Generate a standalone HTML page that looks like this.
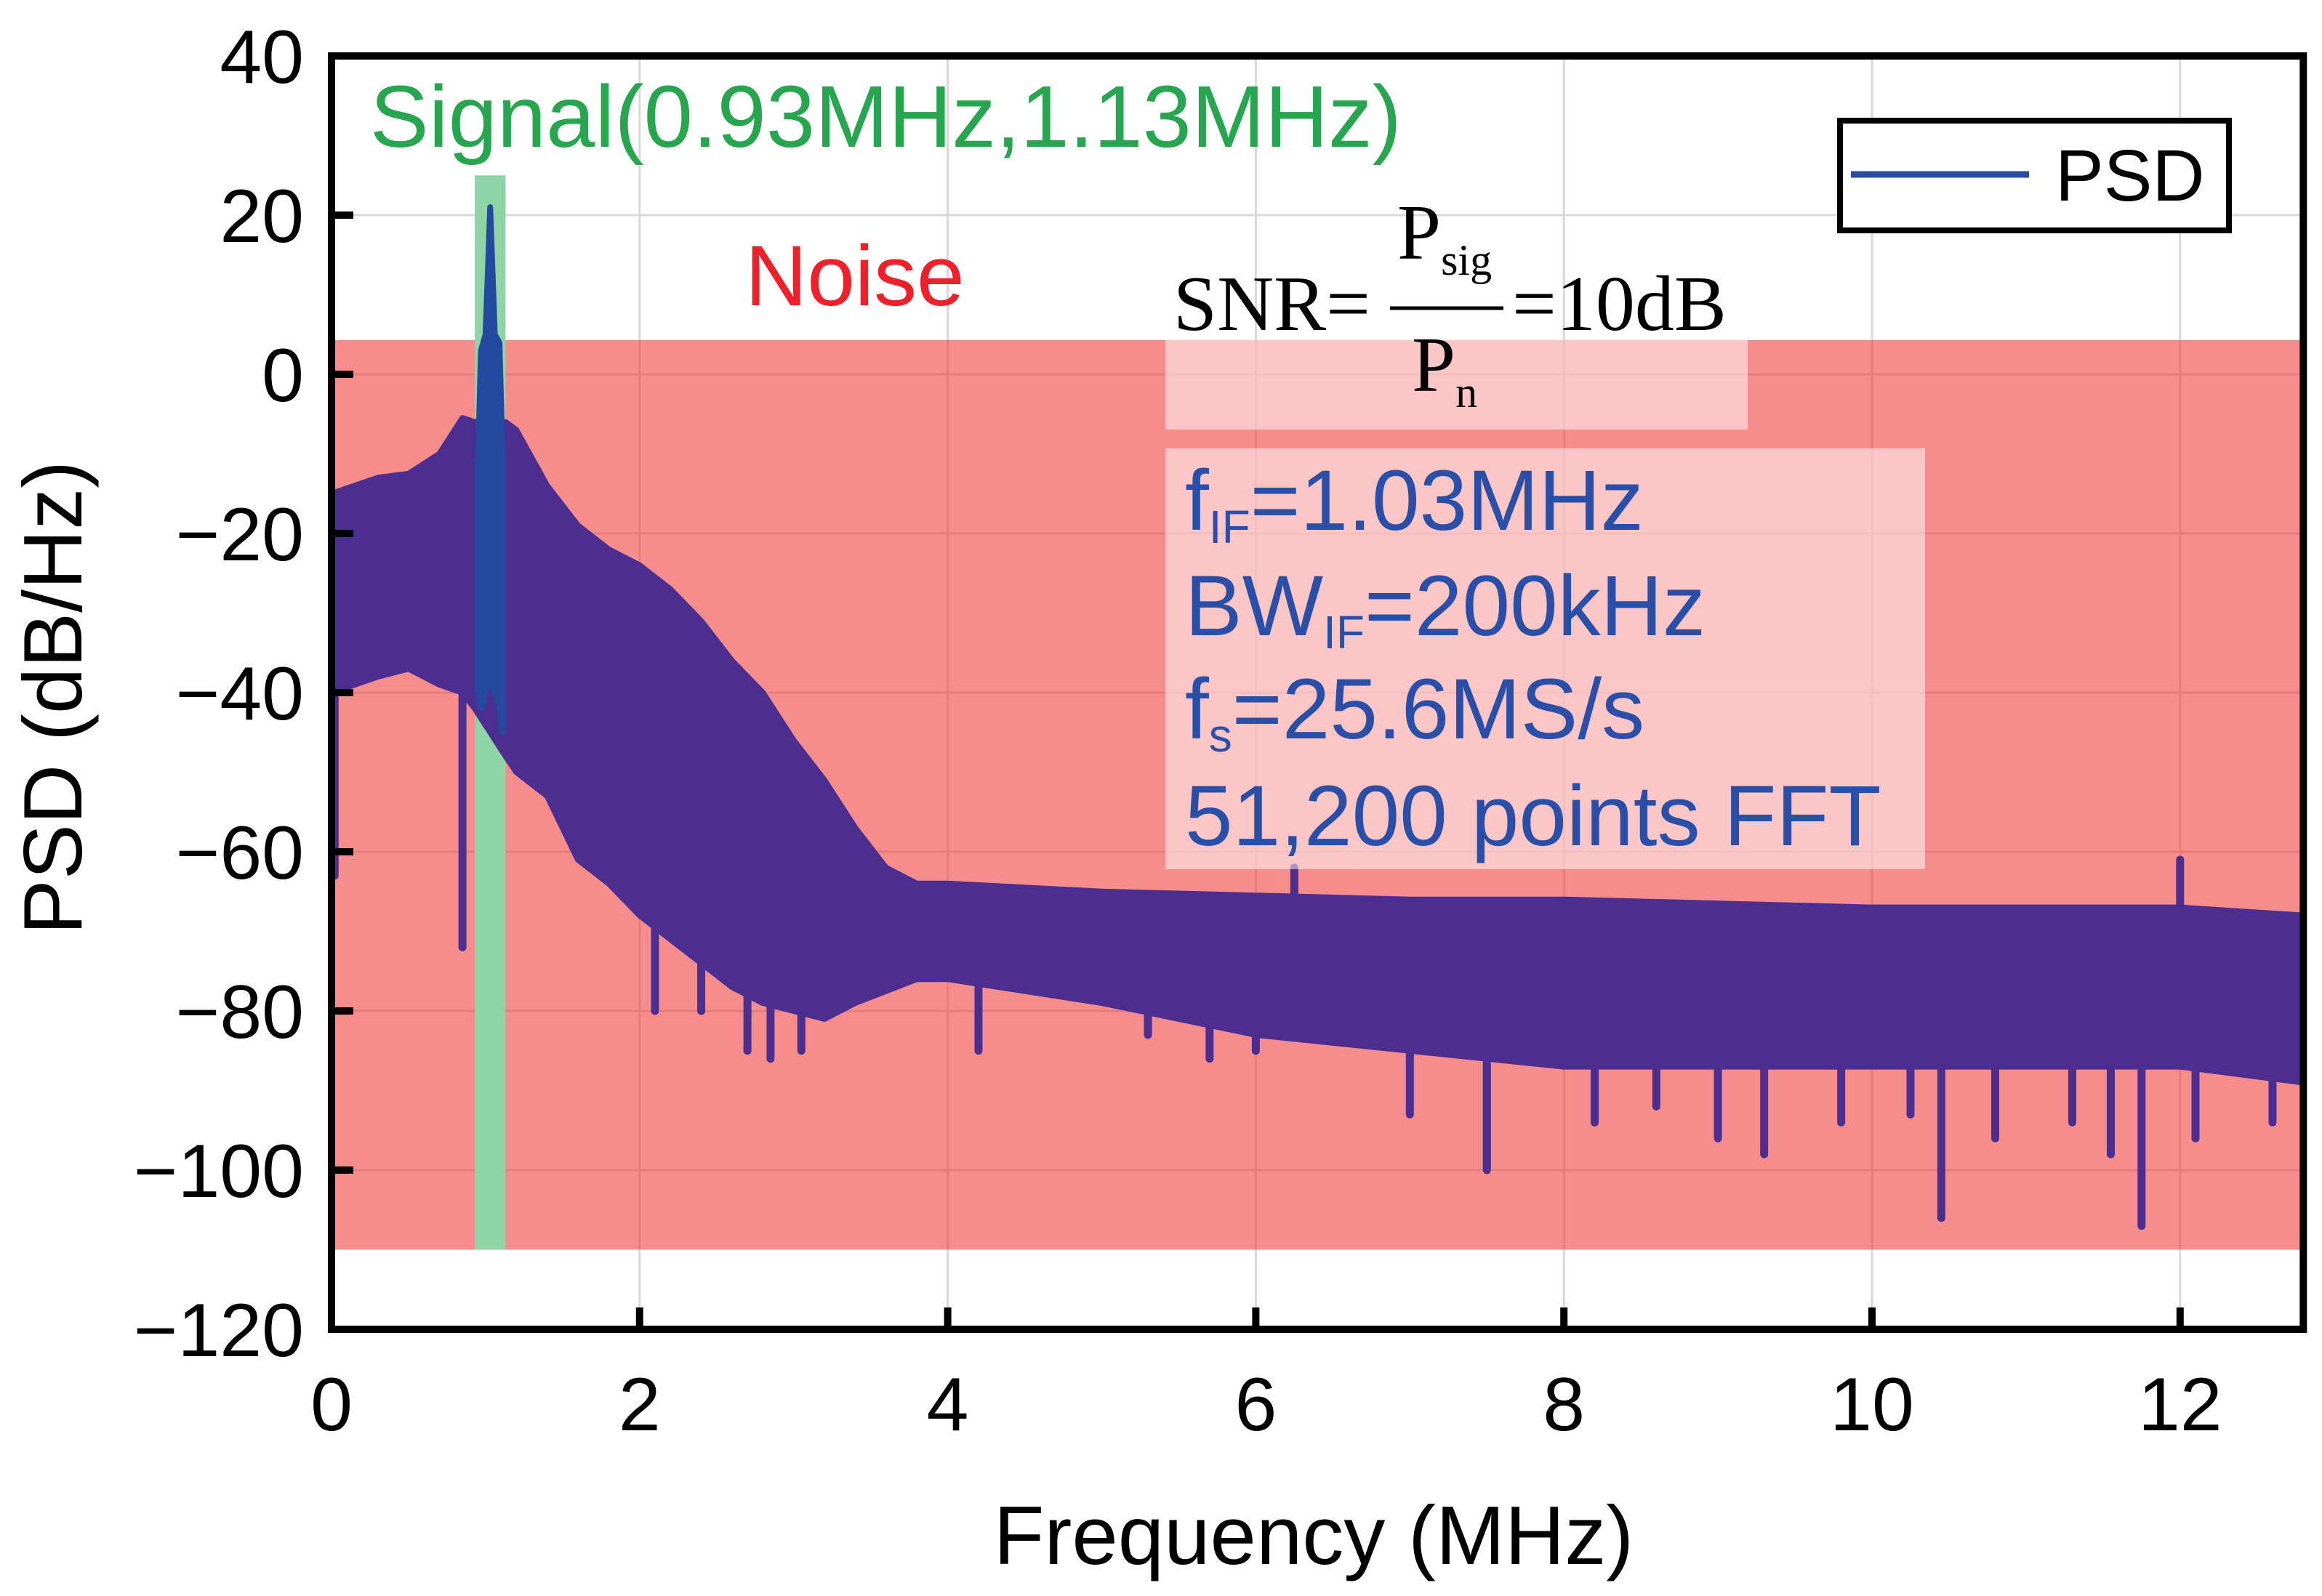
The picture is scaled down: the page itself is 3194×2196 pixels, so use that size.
<!DOCTYPE html>
<html><head><meta charset="utf-8"><style>
html,body{margin:0;padding:0;background:#fff;}
svg{display:block;}
text{font-family:"Liberation Sans",Arial,sans-serif;}
.serif{font-family:"Liberation Serif",serif;}
</style></head><body>
<svg id="chart" width="3194" height="2196" viewBox="0 0 3194 2196" xmlns="http://www.w3.org/2000/svg">
<g id="grid"></g>
<g id="bands"></g>
<g id="series"></g>
<g id="axes"></g>
<text x="509" y="202" font-size="121" fill="#27a64f">Signal(0.93MHz,1.13MHz)</text>
<text x="1025" y="420" font-size="118" fill="#ee2029">Noise</text>
<rect x="1603" y="468" width="801" height="123" fill="#fff" fill-opacity="0.5"/>
<g fill="#000">
<text class="serif" x="1614" y="454" font-size="108">SNR=</text>
<text class="serif" x="1922" y="356" font-size="108">P<tspan font-size="60" dy="22">sig</tspan></text>
<line x1="1912" y1="424" x2="2068" y2="424" stroke="#000" stroke-width="5"/>
<text class="serif" x="1942" y="538" font-size="108">P<tspan font-size="60" dy="22">n</tspan></text>
<text class="serif" x="2080" y="454" font-size="108">=10dB</text>
</g>
<rect x="1603" y="617" width="1045" height="579" fill="#fff" fill-opacity="0.5"/>
<g fill="#2a4fa8" font-size="118">
<text x="1630" y="729">f<tspan font-size="64" dy="18">IF</tspan><tspan dy="-18">=1.03MHz</tspan></text>
<text x="1630" y="874">BW<tspan font-size="64" dy="18">IF</tspan><tspan dy="-18">=200kHz</tspan></text>
<text x="1630" y="1016">f<tspan font-size="64" dy="18">s</tspan><tspan dy="-18">=25.6MS/s</tspan></text>
<text x="1630" y="1163">51,200 points FFT</text>
</g>
<g>
<rect x="2531" y="166" width="535" height="151" fill="#fff" stroke="#000" stroke-width="8"/>
<line x1="2546" y1="240" x2="2791" y2="240" stroke="#2a4ba0" stroke-width="9"/>
<text x="2827" y="276" font-size="100">PSD</text>
</g>
<text x="1807" y="2152" font-size="114" text-anchor="middle">Frequency (MHz)</text>
<text transform="translate(112,960) rotate(-90)" font-size="114" text-anchor="middle">PSD (dB/Hz)</text>
</svg>
<script>
const xTicks=[0,2,4,6,8,10,12];
const yTicks=[40,20,0,-20,-40,-60,-80,-100,-120];
const envFreq=[0,0.3,0.5,0.7,0.85,0.93,1.13,1.2,1.4,1.6,1.8,2.0,2.2,2.4,2.6,2.8,3.0,3.2,3.4,3.6,3.8,4,5,6,7,8,10,12,12.8];
const envUpper=[-15,-13,-12.5,-10,-5.5,-6,-6,-7,-14,-19,-22,-24,-27,-31,-36,-40,-46,-51,-57,-62,-64,-64,-65,-65.5,-66,-66,-67,-67,-68];
const envLower=[-40,-38,-37,-39,-40,-42,-48,-50,-53,-61,-64,-68,-71,-74,-77,-79,-80,-81,-79,-77.5,-76,-76,-79,-83,-85,-87,-87,-87,-89];
const sigFreq=[0.95,0.97,1.0,1.03,1.06,1.09,1.11];
const sigUpper=[-12,3,5,21,5,4,-10];
const sigLower=[-40,-42,-40,-38,-40,-42,-45];
const spikeFreq=[0.02,0.85,2.1,2.4,2.7,2.85,3.05,4.2,5.3,5.7,6.0,6.25,7.0,7.5,8.2,8.6,9.0,9.3,9.8,10.25,10.45,10.8,11.3,11.55,11.75,12.0,12.1,12.6];
const spikeVal=[-63,-72,-80,-80,-85,-86,-85,-85,-83,-86,-85,-62,-93,-100,-94,-92,-96,-98,-94,-93,-106,-96,-94,-98,-107,-61,-96,-94];
const X0=456,PXM=211.9,Y0=77;
function sx(f){return X0+f*PXM;}
function sy(v){return Y0+(40-v)*10.95;}
const NS='http://www.w3.org/2000/svg';
function mk(tag,attrs,parent){const e=document.createElementNS(NS,tag);for(const k in attrs)e.setAttribute(k,attrs[k]);parent.appendChild(e);return e;}
const grid=document.getElementById('grid'),bands=document.getElementById('bands'),series=document.getElementById('series'),axes=document.getElementById('axes');
const L=sx(0),R=sx(12.8),T=sy(40),B=sy(-120);
xTicks.forEach(t=>{const g=mk('line',{x1:sx(t),x2:sx(t),y1:T,y2:B,stroke:'#d8d8d8','stroke-width':3},grid);

});
yTicks.forEach(t=>{const g=mk('line',{x1:L,x2:R,y1:sy(t),y2:sy(t),stroke:'#d8d8d8','stroke-width':3},grid);

});
const nb=mk('rect',{x:L,y:sy(4.3),width:R-L,height:sy(-110)-sy(4.3),fill:'#ee3b3b','fill-opacity':0.58},bands);


const sb=mk('rect',{x:sx(0.93),y:sy(25),width:sx(1.13)-sx(0.93),height:sy(-110)-sy(25),fill:'#8fd4a4'},bands);


function band(fr,up,lo,color,name){
 let pts=fr.map((f,i)=>sx(f)+','+sy(up[i]));
 for(let i=fr.length-1;i>=0;i--)pts.push(sx(fr[i])+','+sy(lo[i]));
 const p=mk('polygon',{points:pts.join(' '),fill:color,stroke:color,'stroke-width':8,'stroke-linejoin':'round'},series);
 
 
}
band(envFreq,envUpper,envLower,'#4b2e90','noise-spectrum');
spikeFreq.forEach((f,i)=>{
 let j=0;while(j<envFreq.length-2&&envFreq[j+1]<f)j++;
 const t=(f-envFreq[j])/(envFreq[j+1]-envFreq[j]);
 const lo=envLower[j]+t*(envLower[j+1]-envLower[j]);
 const up=envUpper[j]+t*(envUpper[j+1]-envUpper[j]);
 const s=mk('line',{x1:sx(f),x2:sx(f),y1:sy(spikeVal[i]<lo?lo:up),y2:sy(spikeVal[i]),stroke:'#4b2e90','stroke-width':11,'stroke-linecap':'round'},series);
 
 
});
band(sigFreq,sigUpper,sigLower,'#234a9e','signal-spectrum');
const fr=mk('rect',{x:L,y:T,width:R-L,height:B-T,fill:'none',stroke:'#000','stroke-width':10},axes);


xTicks.forEach(t=>{
 const l=mk('line',{x1:sx(t),x2:sx(t),y1:B,y2:B-30,stroke:'#000','stroke-width':10},axes);
 
 
 const tx=mk('text',{x:sx(t),y:1968,'font-size':104,'text-anchor':'middle'},axes);tx.textContent=t;
 
 
});
yTicks.forEach(t=>{
 const l=mk('line',{x1:L,x2:L+30,y1:sy(t),y2:sy(t),stroke:'#000','stroke-width':10},axes);
 
 
 const tx=mk('text',{x:418,y:sy(t)+37,'font-size':104,'text-anchor':'end'},axes);tx.textContent=(t<0?'\u2212'+(-t):t);
 
 
});
</script>
</body></html>
